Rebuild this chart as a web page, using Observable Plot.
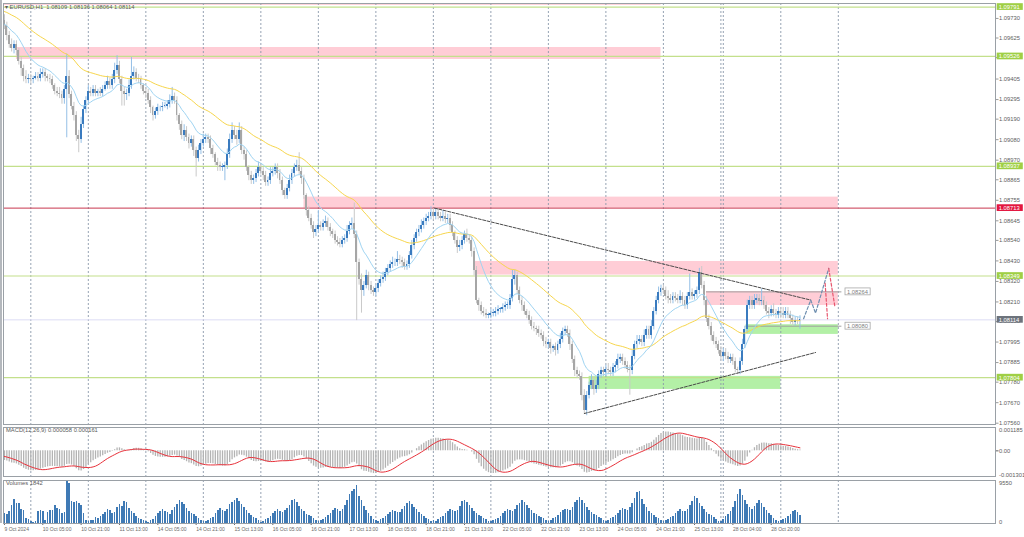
<!DOCTYPE html>
<html><head><meta charset="utf-8">
<script src="https://cdn.jsdelivr.net/npm/d3@7"></script>
<script src="https://cdn.jsdelivr.net/npm/@observablehq/plot@0.6"></script>
<style>
html,body{margin:0;padding:0;background:#fff;}
#wrap{position:relative;width:1024px;height:537px;overflow:hidden;background:#fff;}
.panel{position:absolute;left:0;}
.lbl{position:absolute;font:5.8px "Liberation Sans",Arial,sans-serif;color:#5a5a5a;white-space:pre;line-height:7px;}
</style></head><body><div id="wrap"></div>
<script>
// ---------- DATA ----------
const firstOpen = 1.0972;
const close = [
 1.0969,1.0964,1.0959,1.0957,1.0959,1.0956,1.0950,1.0946,1.0942,1.0940,
 1.0941,1.0940,1.0941,1.0942,1.0941,1.0943,1.0944,1.0942,1.0941,1.0940,
 1.0937,1.0934,1.0933,1.0932,1.0930,1.0935,1.0942,1.0932,1.0926,1.0921,
 1.0910,1.0908,1.0916,1.0924,1.0929,1.0934,1.0933,1.0935,1.0933,1.0934,
 1.0933,1.0935,1.0937,1.0939,1.0937,1.0940,1.0945,1.0948,1.0940,1.0934,
 1.0932,1.0933,1.0937,1.0942,1.0944,1.0941,1.0940,1.0937,1.0934,1.0933,
 1.0929,1.0925,1.0921,1.0923,1.0925,1.0925,1.0926,1.0926,1.0927,1.0929,
 1.0931,1.0929,1.0921,1.0916,1.0910,1.0913,1.0909,1.0906,1.0908,1.0902,
 1.0898,1.0902,1.0906,1.0908,1.0909,1.0908,1.0903,1.0900,1.0896,1.0894,
 1.0893,1.0893,1.0894,1.0900,1.0908,1.0913,1.0910,1.0908,1.0913,1.0902,
 1.0900,1.0893,1.0889,1.0886,1.0887,1.0890,1.0893,1.0891,1.0889,1.0885,
 1.0886,1.0890,1.0891,1.0893,1.0890,1.0886,1.0881,1.0878,1.0882,1.0886,
 1.0890,1.0893,1.0894,1.0891,1.0887,1.0878,1.0870,1.0866,1.0862,1.0858,
 1.0860,1.0862,1.0861,1.0863,1.0864,1.0861,1.0859,1.0857,1.0854,1.0853,
 1.0852,1.0854,1.0855,1.0859,1.0862,1.0863,1.0857,1.0842,1.0833,1.0827,
 1.0830,1.0835,1.0830,1.0827,1.0826,1.0828,1.0831,1.0833,1.0834,1.0837,
 1.0839,1.0841,1.0842,1.0842,1.0844,1.0843,1.0842,1.0840,1.0841,1.0846,
 1.0851,1.0855,1.0858,1.0860,1.0862,1.0864,1.0866,1.0867,1.0869,1.0867,
 1.0869,1.0867,1.0866,1.0867,1.0865,1.0866,1.0862,1.0858,1.0854,1.0850,
 1.0851,1.0854,1.0857,1.0855,1.0854,1.0848,1.0838,1.0822,1.0819,1.0816,
 1.0815,1.0814,1.0814,1.0815,1.0815,1.0816,1.0817,1.0817,1.0818,1.0819,
 1.0819,1.0823,1.0833,1.0835,1.0827,1.0822,1.0819,1.0816,1.0814,1.0811,
 1.0808,1.0807,1.0806,1.0804,1.0803,1.0800,1.0798,1.0799,1.0796,1.0797,
 1.0795,1.0798,1.0801,1.0805,1.0806,1.0804,1.0798,1.0790,1.0784,1.0782,
 1.0781,1.0771,1.0763,1.0771,1.0776,1.0779,1.0774,1.0776,1.0782,1.0784,
 1.0783,1.0785,1.0784,1.0783,1.0786,1.0787,1.0790,1.0791,1.0789,1.0787,
 1.0785,1.0784,1.0792,1.0798,1.0800,1.0801,1.0799,1.0803,1.0806,1.0803,
 1.0808,1.0816,1.0822,1.0826,1.0828,1.0827,1.0824,1.0823,1.0822,1.0824,
 1.0823,1.0822,1.0824,1.0822,1.0819,1.0824,1.0826,1.0824,1.0825,1.0827,
 1.0837,1.0830,1.0822,1.0812,1.0808,1.0803,1.0800,1.0798,1.0795,1.0792,
 1.0794,1.0792,1.0790,1.0791,1.0789,1.0785,1.0784,1.0789,1.0798,1.0806,
 1.0819,1.0822,1.0819,1.0822,1.0823,1.0821,1.0822,1.0819,1.0816,1.0815,
 1.0817,1.0815,1.0814,1.0816,1.0815,1.0814,1.0816,1.0814,1.0812,1.0810,
 1.0811,1.08109,1.08114];
// wick lengths above / below the body, in pips
const wickUp = [
 3,2,2,3,2,2,1,2,2,3, 2,2,1,2,2,3,2,2,1,2, 2,1,2,3,2,2,12,3,2,2, 2,3,4,2,2,3,2,2,2,1,
 2,2,2,3,2,3,4,5,2,2, 2,2,3,10,3,2,2,2,1,2, 2,2,1,2,2,1,2,2,2,3, 5,2,2,1,2,3,2,2,2,2,
 2,3,2,3,2,2,2,2,1,2, 2,2,2,3,3,4,2,3,4,2, 2,2,1,2,2,2,3,2,2,2, 2,3,2,2,2,2,2,1,2,3,
 2,2,3,7,2,2,1,2,2,2, 2,8,2,2,3,2,2,1,2,2, 2,2,2,3,2,3,11,2,2,3, 2,3,2,2,2,2,2,2,3,2,
 2,2,3,2,4,2,2,2,2,2, 3,2,2,2,3,2,2,2,3,2, 2,2,2,3,2,2,2,2,1,2, 3,2,2,3,2,2,2,2,1,2,
 2,2,1,2,2,2,2,1,2,2, 2,2,5,3,2,2,2,2,1,2, 2,2,1,2,2,2,2,2,2,1, 2,2,3,2,2,2,2,2,2,2,
 2,2,3,2,2,3,2,3,2,2, 2,2,3,2,2,2,3,2,2,2, 2,2,3,2,3,2,2,3,2,2, 3,2,2,3,2,2,2,3,2,2,
 2,2,3,2,2,2,10,2,2,2, 2,3,2,2,2,2,2,2,2,2, 2,2,2,2,2,2,1,2,3,2, 3,2,2,3,2,2,6,2,2,2,
 2,3,2,2,2,3,2,2,2,2, 2,2,2.2];
const wickDn = [
 2,3,2,2,3,3,2,4,3,2, 2,2,2,1,2,2,2,3,2,2, 2,2,2,2,3,3,26,2,2,3, 3,7,2,2,2,2,2,2,2,2,
 2,2,1,2,2,2,2,2,2,8, 6,3,2,2,2,2,2,2,2,3, 2,3,3,2,2,2,2,1,2,2, 2,2,3,3,2,3,2,3,2,3,
 10,2,2,2,2,2,3,2,2,3, 2,2,7,2,2,2,2,3,2,2, 3,2,3,2,2,2,2,2,3,2, 2,2,2,2,3,2,3,2,2,2,
 2,2,2,2,3,2,3,2,2,3, 2,2,2,2,2,2,3,2,2,2, 2,2,2,2,2,2,2,31,3,12, 3,2,3,2,2,2,2,2,2,2,
 2,2,2,2,2,2,3,2,2,2, 2,2,2,2,2,2,2,2,2,2, 2,2,2,2,2,2,3,2,2,3, 2,2,2,2,2,3,3,2,3,2,
 2,2,2,2,2,2,2,2,2,2, 2,2,2,3,2,2,3,2,2,2, 2,2,3,2,2,3,2,2,3,2, 3,2,2,2,2,2,3,2,3,2,
 2,3,2,3,2,2,3,2,2,2, 2,2,2,2,2,3,2,2,2,2, 2,13,2,2,2,2,2,2,2,2, 2,2,2,2,2,2,2,3,2,2,
 2,2,2,3,2,2,2,2,2,2, 2,2,3,2,2,3,2,2,2,2, 3,2,2,2,2,2,2,2,2,2, 2,2,2,2,2,2,2,2,2,3,
 2,2,2,2,3,2,2,2,3,2, 2,2,4.5];
const volume = [
 2300,2000,2600,4100,5400,4500,4400,3000,2800,1000,800,
 400,300,500,2700,2800,2600,600,2500,2800,2900,4100,3300,3000,2300,2500,9550,8800,4900,4700,4900,4500,3900,2300,600,
 500,600,700,1300,1000,1500,2000,2500,3000,2800,2200,2500,3500,4200,3800,4800,4600,3300,2700,2200,1500,1200,900,600,
 400,300,600,900,1500,2200,2600,3100,2600,2400,2000,2800,3600,4200,5000,4700,4300,3400,2700,2300,2000,1600,1200,700,
 500,400,700,1100,1400,2300,2800,3300,2900,2600,3000,4200,4600,5200,5600,4900,4200,3600,2800,2300,1800,1300,1000,600,
 300,500,800,1200,1500,2200,2600,3000,2700,2500,2800,3400,4000,5100,5400,4600,3700,3200,2600,2000,1800,1500,1100,700,
 500,600,900,1300,1700,2300,2900,3300,3000,2700,3200,4000,5200,6500,7200,7600,8500,6000,5000,3800,2800,2200,1600,900,
 600,500,800,1200,1600,2100,2500,2800,2600,2400,2500,3200,3700,4500,4900,4300,3500,3000,2500,2000,1600,1200,900,500,
 600,500,900,1300,1500,2300,2700,3100,2800,2600,2900,3800,4800,5000,4600,4000,3300,2600,2200,1800,1500,1200,800,500,
 400,600,900,1200,1600,2200,2600,3000,2900,2700,3200,4000,4500,5200,4700,4100,3400,2800,2300,1900,1500,1300,1000,600,
 500,700,1000,1300,1800,2400,2800,3200,3000,2800,3500,4600,5000,5800,5200,4400,3500,2900,2400,1900,1700,1300,1000,600,
 500,700,1000,1300,1700,2300,2900,3300,3100,2900,3600,4500,5500,6800,7000,5400,4200,3500,2700,2200,1800,1400,1100,700,
 500,600,900,1300,1600,2200,2700,3000,2700,2600,3000,3900,4800,6000,5500,4500,3800,3100,2500,2000,1700,1300,900,500,
 400,800,1500,2000,2600,3500,4800,6500,7500,6200,5200,4300,3600,3200,3800,4500,5200,4400,3600,2900,2300,1800,1200,700,
 500,600,900,1200,1500,2000,2600,2900,2500,1842];
// indicator starting values read at the left edge
const fastMaStart = 1.0970, slowMaStart = 1.0977;
const ema12Start = 1.0972, ema26Start = 1.0977, signalStart = -0.00026;
// indicator readouts shown in the panel titles
const macdTitleValues = ["0.000058", "0.000161"];

const timeTickBars = [0,16,32,48,64,80,96,112,128,144,160,176,192,208,224,240,256,272,288,304,320];
const timeLabels = ["9 Oct 2024","10 Oct 05:00","10 Oct 21:00","11 Oct 13:00","14 Oct 05:00","14 Oct 21:00","15 Oct 13:00","16 Oct 05:00","16 Oct 21:00","17 Oct 13:00","18 Oct 05:00","18 Oct 21:00","21 Oct 13:00","22 Oct 05:00","22 Oct 21:00","23 Oct 13:00","24 Oct 05:00","24 Oct 21:00","25 Oct 13:00","28 Oct 04:00","28 Oct 20:00"];
const dayStartBars = [11,35,59,83,107,131,155,179,203,227,251,275,299,300,324,348];
const priceTicks = [1.0973,1.09625,1.0952,1.09405,1.09295,1.0919,1.0908,1.0897,1.08865,1.08755,1.08645,1.0854,1.0843,1.0832,1.0821,1.08105,1.07995,1.07885,1.0778,1.0767,1.0756];
const levelPrices = [1.09791,1.09526,1.08937,1.08349,1.07804];
const resistancePrice = 1.08713;
const lastPrice = 1.08114;
const markerLevels = [{price:1.08264, from:293, to:349.5}, {price:1.08080, from:309.5, to:349.5}];
const pinkZones = [
 {from:-2, to:274, hi:1.0984, lo:1.0980},
 {from:5, to:274, hi:1.09574, lo:1.09510},
 {from:125, to:348, hi:1.08772, lo:1.08713},
 {from:196.5, to:348, hi:1.08427, lo:1.08354},
 {from:293, to:348, hi:1.08266, lo:1.08191}];
const greenZones = [
 {from:309.5, to:348, hi:1.08088, lo:1.08036},
 {from:244, to:324, hi:1.07811, lo:1.07741}];
const upperTrend = [{bar:179.5, price:1.08713},{bar:336.5, price:1.08220}];
const lowerTrend = [{bar:242, price:1.07612},{bar:338.5, price:1.07939}];
const projUp = [{bar:333.5, price:1.0812},{bar:336.5, price:1.0822},{bar:338.5, price:1.0815},{bar:344, price:1.0839}];
const projDown1 = [{bar:344, price:1.0839},{bar:346.5, price:1.0819}];
const projDown2 = [{bar:342.5, price:1.0831},{bar:343.5, price:1.0812}];
const macdRange = [-0.001301, 0.001185];
const volumeMax = 9550;

// ---------- BUILD ----------
const pip = 0.0001;
const bars = close.map((c, i) => {
  const o = i === 0 ? firstOpen : close[i - 1];
  return {i, open: o, close: c, high: Math.max(o, c) + wickUp[i] * pip, low: Math.min(o, c) - wickDn[i] * pip, volume: volume[i], up: c >= o};
});
function ema(values, period, start) { const k = 2 / (period + 1); let e = start; return values.map(v => (e = e + k * (v - e))); }
const fastMa = ema(close, 14, fastMaStart);
const slowMa = ema(close, 50, slowMaStart);
const e12 = ema(close, 12, ema12Start), e26 = ema(close, 26, ema26Start);
const macd = e12.map((v, i) => v - e26[i]);
const signal = macd.map((_, i) => { let s = 0; for (let j = i - 8; j <= i; j++) s += j < 0 ? signalStart : macd[j]; return s / 9; });
bars.forEach((b, i) => { b.fast = fastMa[i]; b.slow = slowMa[i]; b.macd = macd[i]; b.signal = signal[i]; });

const W = 1024, ML = 3, MR = 29;
const xDomain = [-0.4, 413.6];
const FONT = "Liberation Sans, Arial, sans-serif";
const grid = Plot.ruleX(dayStartBars, {stroke: "#8a98aa", strokeDasharray: "2,2", strokeWidth: 0.9});
const wrap = document.getElementById("wrap");
function place(svg, top) { svg.classList.add("panel"); svg.style.top = top + "px"; wrap.appendChild(svg); }
const boxX1 = 414.3, boxX2 = 425.2;

const axisLabels = [
 ...levelPrices.map(p => ({price: p, color: "#9fcf45"})),
 {price: resistancePrice, color: "#e3163f"},
 {price: lastPrice, color: "#6d737c"}];

// main price panel
const main = Plot.plot({
  width: W, height: 424, marginLeft: ML, marginRight: MR, marginTop: 3, marginBottom: 0,
  x: {domain: xDomain, axis: null},
  y: {domain: [1.07553, 1.09810], axis: null},
  style: {background: "transparent", fontFamily: FONT, fontSize: "5.8px", color: "#606060", overflow: "visible"},
  marks: [
    Plot.rect(pinkZones, {x1: "from", x2: "to", y1: "lo", y2: "hi", fill: "#ffcdd6", clip: true}),
    Plot.rect(greenZones, {x1: "from", x2: "to", y1: "lo", y2: "hi", fill: "#b3f0a6"}),
    grid,
    Plot.ruleY(levelPrices, {stroke: "#c3e08c", strokeWidth: 1.2}),
    Plot.ruleY([resistancePrice], {stroke: "#c8364f", strokeWidth: 1}),
    Plot.ruleY([lastPrice], {stroke: "#dcdcf4", strokeWidth: 1}),
    Plot.ruleY(markerLevels, {y: "price", x1: "from", x2: "to", stroke: "#a0a0a0", strokeWidth: 1}),
    Plot.ruleX(bars, {x: "i", y1: "low", y2: "high", stroke: d => d.up ? "#94bfe6" : "#c9c9c9", strokeWidth: 1}),
    Plot.rect(bars, {x1: d => d.i - 0.4, x2: d => d.i + 0.4, y1: d => Math.min(d.open, d.close), y2: d => Math.max(d.open, d.close, Math.min(d.open, d.close) + 0.00004), fill: d => d.up ? "#3a7bbf" : "#a6a6a6", shapeRendering: "crispEdges"}),
    Plot.line(bars, {x: "i", y: "slow", stroke: "#f7d64c", strokeWidth: 1}),
    Plot.line(bars, {x: "i", y: "fast", stroke: "#9fd4f2", strokeWidth: 1}),
    Plot.line(upperTrend, {x: "bar", y: "price", stroke: "#4a4a4a", strokeWidth: 1, strokeDasharray: "3,1.5"}),
    Plot.line(lowerTrend, {x: "bar", y: "price", stroke: "#4a4a4a", strokeWidth: 1, strokeDasharray: "3,1.5"}),
    Plot.line(projUp, {x: "bar", y: "price", stroke: "#6f8fb0", strokeWidth: 1.2, strokeDasharray: "3,2"}),
    Plot.line(projDown1, {x: "bar", y: "price", stroke: "#e8566e", strokeWidth: 1.2, strokeDasharray: "3,2"}),
    Plot.line(projDown2, {x: "bar", y: "price", stroke: "#e8566e", strokeWidth: 1.2, strokeDasharray: "3,2"}),
    Plot.rect(markerLevels, {x1: 351, x2: 361.5, y1: d => d.price - 0.000185, y2: d => d.price + 0.000185, fill: "white", stroke: "#a8a8a8", strokeWidth: 0.8}),
    Plot.text(markerLevels, {x: 351, y: "price", text: d => d.price.toFixed(5), dx: 1.5, textAnchor: "start", fill: "#808080", fontSize: 5.8}),
    Plot.axisY({anchor: "right", ticks: priceTicks, tickFormat: d3.format(".5f"), tickSize: 2.5, tickPadding: 1, fontSize: 5.8, stroke: "#9a9a9a"}),
    Plot.rect(axisLabels, {x1: boxX1, x2: boxX2, y1: d => d.price - 0.00018, y2: d => d.price + 0.00018, fill: "color"}),
    Plot.text(axisLabels, {x: boxX1, y: "price", text: d => d.price.toFixed(5), dx: 1.5, textAnchor: "start", fill: "white", fontSize: 5.8}),
    Plot.frame({stroke: "#9aa0a6", strokeWidth: 1})
  ]
});
place(main, 0);

// MACD panel
const macdPlot = Plot.plot({
  width: W, height: 53, marginLeft: ML, marginRight: MR, marginTop: 3, marginBottom: 1,
  x: {domain: xDomain, axis: null},
  y: {domain: macdRange, axis: null},
  style: {background: "transparent", fontFamily: FONT, fontSize: "5.8px", color: "#606060", overflow: "visible"},
  marks: [
    grid,
    Plot.ruleX(bars, {x: "i", y1: 0, y2: "macd", stroke: "#b3b3b3", strokeWidth: 1.3}),
    Plot.line(bars, {x: "i", y: "signal", stroke: "#e8313a", strokeWidth: 1}),
    Plot.axisY({anchor: "right", ticks: [0], tickFormat: () => "0.00", tickSize: 2.5, tickPadding: 1, fontSize: 5.8}),
    Plot.text([macdRange[1]], {x: xDomain[1], y: d => d, text: d => d.toFixed(6), dx: 3.5, textAnchor: "start", lineAnchor: "top", fontSize: 5.8, fill: "#606060"}),
    Plot.text([macdRange[0]], {x: xDomain[1], y: d => d, text: d => d.toFixed(6), dx: 3.5, textAnchor: "start", lineAnchor: "bottom", fontSize: 5.8, fill: "#606060"}),
    Plot.frame({stroke: "#9aa0a6", strokeWidth: 1})
  ]
});
place(macdPlot, 424);

// Volumes panel with time axis
const volPlot = Plot.plot({
  width: W, height: 60, marginLeft: ML, marginRight: MR, marginTop: 3, marginBottom: 14,
  x: {domain: xDomain},
  y: {domain: [0, volumeMax], axis: null},
  style: {background: "transparent", fontFamily: FONT, fontSize: "5px", color: "#6a6a6a", overflow: "visible"},
  marks: [
    grid,
    Plot.ruleX(bars, {x: "i", y1: 0, y2: "volume", stroke: "#3f7ab5", strokeWidth: 1.6, shapeRendering: "crispEdges"}),
    Plot.axisX({anchor: "bottom", ticks: timeTickBars, tickFormat: d => timeLabels[timeTickBars.indexOf(d)], textAnchor: "start", tickSize: 2, tickPadding: 1.5, fontSize: 5, label: null}),
    Plot.text([volumeMax], {x: xDomain[1], y: d => d, text: d => String(d), dx: 3.5, textAnchor: "start", lineAnchor: "top", fontSize: 5.8, fill: "#606060"}),
    Plot.text([0], {x: xDomain[1], y: d => d, text: d => String(d), dx: 3.5, textAnchor: "start", lineAnchor: "bottom", fontSize: 5.8, fill: "#606060"}),
    Plot.frame({stroke: "#9aa0a6", strokeWidth: 1})
  ]
});
place(volPlot, 477);

// left window border
const edge = document.createElement("div");
edge.style.cssText = "position:absolute;left:0;top:0;width:2px;height:523px;background:#b4b8bd";
wrap.appendChild(edge);

// header texts
const lastBar = bars[bars.length - 1];
const fmt5 = d3.format(".5f");
function label(text, x, y) { const d = document.createElement("div"); d.className = "lbl"; d.textContent = text; d.style.left = x + "px"; d.style.top = y + "px"; wrap.appendChild(d); }
label("\u25BE EURUSD,H1  " + [lastBar.open, lastBar.high, lastBar.low, lastBar.close].map(fmt5).join(" "), 5, 3.5);
label("MACD(12,26,9) " + macdTitleValues.join(" "), 6, 426.5);
label("Volumes " + lastBar.volume, 6, 479.5);
</script>
</body></html>
